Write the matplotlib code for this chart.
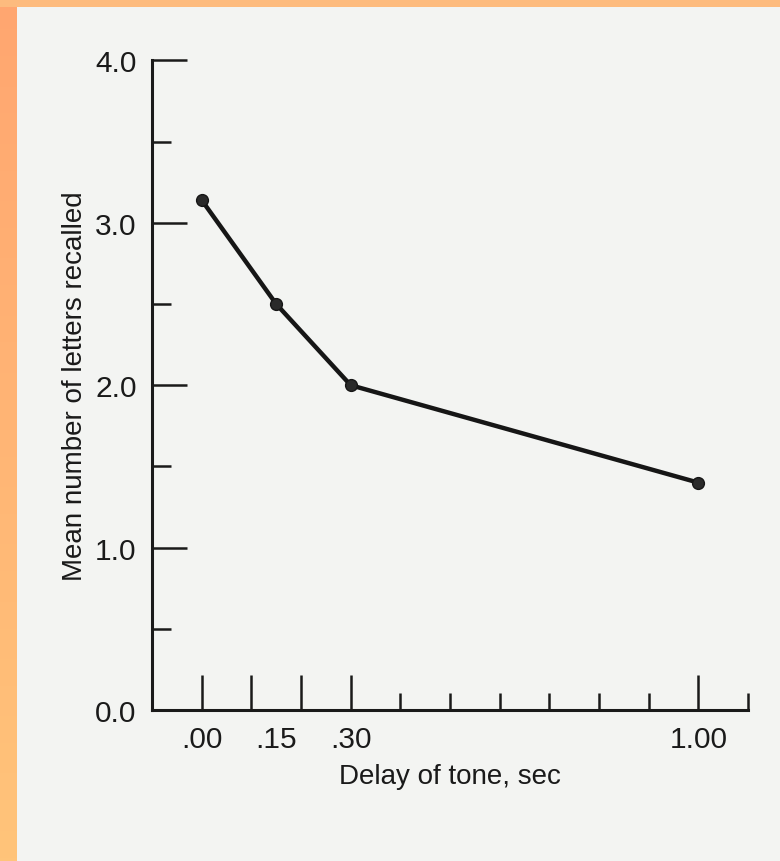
import numpy as np
import matplotlib
matplotlib.use("Agg")
import matplotlib.pyplot as plt
from matplotlib.patches import Rectangle

# ---- data ----
delay_sec = [0.00, 0.15, 0.30, 1.00]
letters_recalled = [3.14, 2.50, 2.00, 1.40]
x_label_ticks = [0.00, 0.15, 0.30, 1.00]
x_label_text = [".00", ".15", ".30", "1.00"]
x_tall_ticks = [0.0, 0.1, 0.2, 0.3, 1.0]
x_short_ticks = [0.4, 0.5, 0.6, 0.7, 0.8, 0.9, 1.1]
y_major = [0.0, 1.0, 2.0, 3.0, 4.0]
y_minor = [0.5, 1.5, 2.5, 3.5]
x_title = "Delay of tone, sec"
y_title = "Mean number of letters recalled"

plt.rcParams['font.family'] = ['Liberation Sans', 'DejaVu Sans']

W, H = 780, 862
fig = plt.figure(figsize=(W / 100, H / 100), dpi=100)
paper = "#F3F4F2"
fig.patch.set_facecolor(paper)

# orange page border (photo frame)
bg = fig.add_axes([0, 0, 1, 1], zorder=-5)
bg.set_xlim(0, W)
bg.set_ylim(H, 0)
bg.axis("off")
grad = np.linspace(0, 1, 256).reshape(-1, 1)
c_top = np.array([255, 166, 112]) / 255
c_bot = np.array([255, 196, 122]) / 255
img = c_top[None, None, :] * (1 - grad[:, :, None]) + c_bot[None, None, :] * grad[:, :, None]
bg.imshow(img, extent=[0, 17, H, 0], aspect="auto", zorder=1)
bg.add_patch(Rectangle((0, 0), W, 8, facecolor="#FDBB7E", edgecolor="none", zorder=2))

# main axes
left, right = 152, 748
bottom_px, top_px = 711, 61.4
ax = fig.add_axes([left / W, (H - bottom_px) / H, (right - left) / W, (bottom_px - top_px) / H])
ax.set_facecolor("none")
ink = "#1A1A1A"

ax.plot(delay_sec, letters_recalled, color="#161616", lw=3.2, marker="o", markersize=8.5,
        markerfacecolor="#2a2a2a", markeredgecolor="#161616", solid_capstyle="round", zorder=3)

ax.set_xlim(-0.1, 1.1)
ax.set_ylim(0, 4.0)
for s in ["top", "right"]:
    ax.spines[s].set_visible(False)
for s in ["left", "bottom"]:
    ax.spines[s].set_linewidth(2.2)
    ax.spines[s].set_color(ink)

# x ticks: labels (no tick mark), short minor ticks, tall ticks on secondary axis
ax.set_xticks(x_label_ticks)
ax.set_xticklabels(x_label_text)
ax.set_xticks(x_short_ticks, minor=True)
ax.tick_params(axis="x", which="major", length=0, pad=11, labelsize=21.5, labelcolor=ink)
ax.tick_params(axis="x", which="minor", direction="in", length=12, width=1.8, color=ink)

sec = ax.secondary_xaxis("bottom")
sec.spines["bottom"].set_visible(False)
sec.set_xticks(x_tall_ticks)
sec.tick_params(axis="x", direction="in", length=25, width=1.8, color=ink, labelbottom=False)

# y ticks
ax.set_yticks(y_major)
ax.set_yticklabels([f"{v:.1f}" for v in y_major])
ax.set_yticks(y_minor, minor=True)
ax.tick_params(axis="y", which="major", direction="in", length=25, width=1.8, color=ink,
               pad=11, labelsize=21.5, labelcolor=ink)
ax.tick_params(axis="y", which="minor", direction="in", length=14, width=1.8, color=ink)

ax.set_xlabel(x_title, fontsize=20, color=ink, labelpad=7)
ax.set_ylabel(y_title, fontsize=20, color=ink, labelpad=5)

fig.savefig("out.png", dpi=100, facecolor=fig.get_facecolor())
